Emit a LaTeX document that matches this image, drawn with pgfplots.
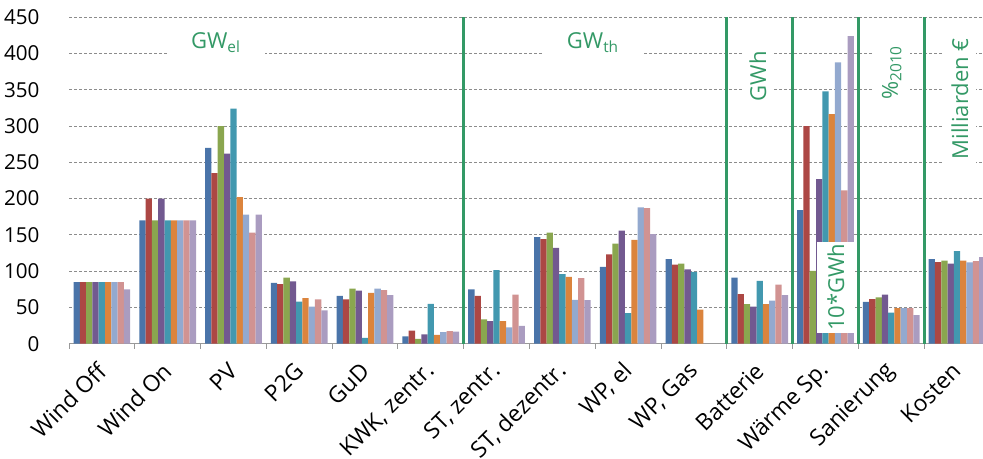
\documentclass[border=0pt]{standalone}
\usepackage{fontspec}
\setmainfont{Open Sans}
\usepackage{pgfplots}
\pgfplotsset{compat=1.18}
\usepackage{pgfplotstable}
\definecolor{c1}{HTML}{4A74A9}
\definecolor{c2}{HTML}{AC4744}
\definecolor{c3}{HTML}{8AA64F}
\definecolor{c4}{HTML}{725990}
\definecolor{c5}{HTML}{4298AF}
\definecolor{c6}{HTML}{DB843D}
\definecolor{c7}{HTML}{93A9CF}
\definecolor{c8}{HTML}{D19392}
\definecolor{c9}{HTML}{AA9CC0}
\definecolor{sep}{HTML}{339966}

\pgfplotstableread{
x a b c d e f g h i
0 85 85 85 85 85 85 85 85 75
1 170 200 170 200 170 170 170 170 170
2 270 235 300 262 324 202 178 153 178
3 84 82 91 86 58 63 51 61 46
4 66 61 76 73 8 70 76 74 67
5 10 18 6.5 13 55 12 16 17.5 16.5
6 75 66 33.5 31 101.5 31 22.5 67.5 24.5
7 147 144 153 132 96 92 60.5 90.5 60
8 106 123 138 156 42 143 188 187 151
9 116.5 109 110.5 102.5 99 47 nan nan nan
10 91 68.5 54.5 51 86.5 54.5 59.5 81.5 67
11 184 300 100.5 227 348 316.5 388 211.5 424
12 57.5 61.5 64 67.5 43 49 49 49 39.5
13 116.5 112.5 114.5 110.5 127.5 114.5 112 114 119.5
}\data

\begin{document}
\begin{tikzpicture}
\begin{axis}[
  scale only axis, width=457pt, height=163.2pt,
  xmin=-0.5, xmax=13.395, ymin=0, ymax=450,
  ybar=0pt, bar width=3.15pt,
  ytick={0,50,...,450},
  ymajorgrids,
  major grid style={black!45, line width=0.5pt, dash pattern=on 1.5pt off 1pt},
  xtick={0,...,13},
  xticklabels={Wind Off, Wind On, PV, P2G, GuD, {KWK, zentr.}, {ST, zentr.}, {ST, dezentr.}, {WP, el}, {WP, Gas}, Batterie, Wärme Sp., Sanierung, Kosten},
  major x tick style={draw=none},
  minor xtick={-0.5,0.5,...,12.5},
  minor x tick style={black!40, line width=0.5pt},
  minor tick length=2.5pt, tick align=outside,
  axis x line*=bottom, axis y line*=left,
  x axis line style={black!40, line width=0.5pt, -},
  y axis line style={draw=none},
  major y tick style={draw=none},
  yticklabel style={font=\fontsize{10.3}{12}\selectfont, xshift=-7pt},
  /pgf/number format/assume math mode=true,
  xticklabel style={font=\fontsize{11.4}{13}\selectfont, xshift=2.5pt, yshift=-5pt, rotate=45, anchor=east},
]
\addplot[fill=c1, draw=none] table[x=x, y=a] {\data};
\addplot[fill=c2, draw=none] table[x=x, y=b] {\data};
\addplot[fill=c3, draw=none] table[x=x, y=c] {\data};
\addplot[fill=c4, draw=none] table[x=x, y=d] {\data};
\addplot[fill=c5, draw=none] table[x=x, y=e] {\data};
\addplot[fill=c6, draw=none] table[x=x, y=f] {\data};
\addplot[fill=c7, draw=none] table[x=x, y=g] {\data};
\addplot[fill=c8, draw=none] table[x=x, y=h] {\data};
\addplot[fill=c9, draw=none] table[x=x, y=i] {\data};

\draw[sep, line width=1.5pt] (axis cs:5.5,0) -- (axis cs:5.5,450);
\draw[sep, line width=1.5pt] (axis cs:9.5,0) -- (axis cs:9.5,450);
\draw[sep, line width=1.5pt] (axis cs:10.5,0) -- (axis cs:10.5,450);
\draw[sep, line width=1.5pt] (axis cs:11.5,0) -- (axis cs:11.5,450);
\draw[sep, line width=1.5pt] (axis cs:12.5,0) -- (axis cs:12.5,450);

\node[fill=white, text=sep, font=\fontsize{11}{13}\selectfont, inner xsep=12pt, inner ysep=4pt] at (axis cs:1.735,415) {GW\textsubscript{el}};
\node[fill=white, text=sep, font=\fontsize{11}{13}\selectfont, inner xsep=12pt, inner ysep=4pt] at (axis cs:7.466,415) {GW\textsubscript{th}};
\node[fill=white, text=sep, font=\fontsize{11}{13}\selectfont, rotate=90, inner sep=4pt] at (axis cs:9.974,368.5) {GWh};
\node[fill=white, text=sep, font=\fontsize{11}{13}\selectfont, rotate=90, inner sep=4pt] at (axis cs:12.007,374) {\%\textsubscript{2010}};
\node[fill=white, text=sep, font=\fontsize{11}{13}\selectfont, rotate=90, inner sep=4pt] at (axis cs:13.045,337.5) {Milliarden €};
\node[fill=white, text=sep, font=\fontsize{11}{13}\selectfont, rotate=90, minimum width=45.5pt, minimum height=19pt, inner sep=0pt] at (axis cs:11.158,77.8) {10*GWh};

\coordinate (SW) at (rel axis cs:0,0);
\coordinate (NE) at (rel axis cs:1,1);
\end{axis}
\pgfresetboundingbox
\useasboundingbox ([xshift=-34.5pt,yshift=-57.65pt]SW) rectangle ([yshift=8.65pt]NE);
\end{tikzpicture}
\end{document}
